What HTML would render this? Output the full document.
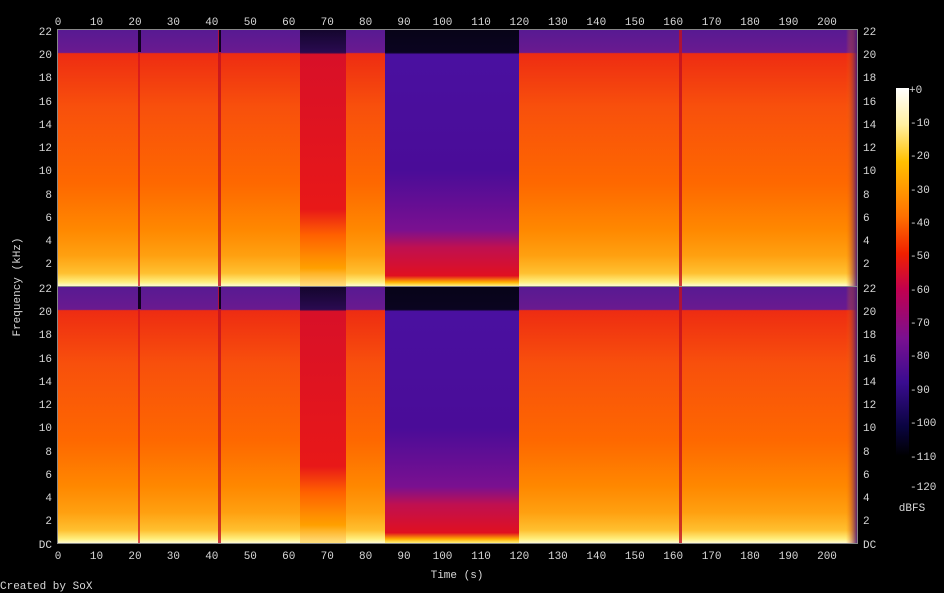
<!DOCTYPE html>
<html><head><style>
html,body{margin:0;padding:0;background:#000;width:944px;height:593px;overflow:hidden}
text{font-family:"Liberation Mono","DejaVu Sans Mono",monospace;font-size:11px;fill:#d8d8d8}
</style></head><body>
<svg width="944" height="593" viewBox="0 0 944 593" xmlns="http://www.w3.org/2000/svg">
<defs>
<linearGradient id="o" x1="0" y1="0" x2="0" y2="1">
<stop offset="0" stop-color="#581a92"/><stop offset="0.088" stop-color="#6a1a90"/>
<stop offset="0.092" stop-color="#ee2c12"/><stop offset="0.3" stop-color="#f8500c"/>
<stop offset="0.6" stop-color="#fe6800"/><stop offset="0.78" stop-color="#ff8800"/>
<stop offset="0.88" stop-color="#ffa010"/><stop offset="0.95" stop-color="#ffc030"/>
<stop offset="0.985" stop-color="#fff080"/><stop offset="1" stop-color="#fffad0"/></linearGradient>
<linearGradient id="r" x1="0" y1="0" x2="0" y2="1">
<stop offset="0" stop-color="#14062e"/><stop offset="0.088" stop-color="#2a0a50"/>
<stop offset="0.095" stop-color="#d81028"/><stop offset="0.7" stop-color="#e81818"/>
<stop offset="0.8" stop-color="#ff6000"/><stop offset="0.93" stop-color="#ffa000"/>
<stop offset="1" stop-color="#ffe080"/></linearGradient>
<linearGradient id="p" x1="0" y1="0" x2="0" y2="1">
<stop offset="0" stop-color="#080418"/><stop offset="0.088" stop-color="#0a0420"/>
<stop offset="0.095" stop-color="#4a10a0"/><stop offset="0.55" stop-color="#4a0c98"/>
<stop offset="0.78" stop-color="#7a1090"/><stop offset="0.85" stop-color="#c01050"/>
<stop offset="0.96" stop-color="#e01020"/><stop offset="0.985" stop-color="#ffb000"/>
<stop offset="1" stop-color="#fff080"/></linearGradient>
<linearGradient id="e" x1="0" y1="0" x2="1" y2="0">
<stop offset="0" stop-color="#ff7000" stop-opacity="0"/><stop offset="1" stop-color="#3a0c80"/></linearGradient>
<linearGradient id="cb" x1="0" y1="0" x2="0" y2="1">
<stop offset="0" stop-color="#ffffff"/><stop offset="0.1" stop-color="#fff0a0"/>
<stop offset="0.2" stop-color="#ffc000"/><stop offset="0.35" stop-color="#ff7000"/>
<stop offset="0.45" stop-color="#f02000"/><stop offset="0.55" stop-color="#c00050"/>
<stop offset="0.68" stop-color="#7a1090"/><stop offset="0.8" stop-color="#3a0c90"/>
<stop offset="0.92" stop-color="#0a0440"/><stop offset="1" stop-color="#000000"/></linearGradient>
<g id="ch">
<rect x="58" y="0" width="800" height="256" fill="url(#o)"/>
<rect x="300" y="0" width="46" height="256" fill="url(#r)"/>
<rect x="385" y="0" width="134" height="256" fill="url(#p)"/>
<rect x="846" y="0" width="12" height="256" fill="url(#e)"/>
<rect x="138" y="0" width="2" height="256" fill="#d01020" opacity="0.7"/>
<rect x="218" y="0" width="3" height="256" fill="#c01020" opacity="0.8"/>
<rect x="679" y="0" width="3" height="256" fill="#c01020" opacity="0.8"/>
<rect x="138" y="0" width="3" height="22" fill="#100020"/>
<rect x="219" y="0" width="2" height="22" fill="#100020"/>
</g>
</defs>
<use href="#ch" x="0" y="30"/>
<use href="#ch" x="0" y="287"/>
<rect x="57.5" y="29.5" width="800" height="257" fill="none" stroke="#888" stroke-width="1"/>
<rect x="57.5" y="286.5" width="800" height="257" fill="none" stroke="#888" stroke-width="1"/>
<g id="xt">
<text x="58" y="25" text-anchor="middle">0</text><text x="96.5" y="25" text-anchor="middle">10</text>
<text x="135" y="25" text-anchor="middle">20</text><text x="173.4" y="25" text-anchor="middle">30</text>
<text x="211.8" y="25" text-anchor="middle">40</text><text x="250.3" y="25" text-anchor="middle">50</text>
<text x="288.7" y="25" text-anchor="middle">60</text><text x="327.2" y="25" text-anchor="middle">70</text>
<text x="365.6" y="25" text-anchor="middle">80</text><text x="404" y="25" text-anchor="middle">90</text>
<text x="442.5" y="25" text-anchor="middle">100</text><text x="481" y="25" text-anchor="middle">110</text>
<text x="519.4" y="25" text-anchor="middle">120</text><text x="557.9" y="25" text-anchor="middle">130</text>
<text x="596.3" y="25" text-anchor="middle">140</text><text x="634.8" y="25" text-anchor="middle">150</text>
<text x="673.2" y="25" text-anchor="middle">160</text><text x="711.6" y="25" text-anchor="middle">170</text>
<text x="750" y="25" text-anchor="middle">180</text><text x="788.5" y="25" text-anchor="middle">190</text>
<text x="827" y="25" text-anchor="middle">200</text>
</g>
<use href="#xt" x="0" y="534"/>
<g id="yl" text-anchor="end">
<text x="52" y="35">22</text><text x="52" y="58">20</text><text x="52" y="81">18</text>
<text x="52" y="105">16</text><text x="52" y="128">14</text><text x="52" y="151">12</text>
<text x="52" y="174">10</text><text x="52" y="198">8</text><text x="52" y="221">6</text>
<text x="52" y="244">4</text><text x="52" y="267">2</text>
</g>
<use href="#yl" x="0" y="257"/>
<text x="52" y="548" text-anchor="end">DC</text>
<g id="yr">
<text x="863" y="35">22</text><text x="863" y="58">20</text><text x="863" y="81">18</text>
<text x="863" y="105">16</text><text x="863" y="128">14</text><text x="863" y="151">12</text>
<text x="863" y="174">10</text><text x="863" y="198">8</text><text x="863" y="221">6</text>
<text x="863" y="244">4</text><text x="863" y="267">2</text>
</g>
<use href="#yr" x="0" y="257"/>
<text x="863" y="548">DC</text>
<text x="457" y="578" text-anchor="middle">Time (s)</text>
<text x="20" y="287" text-anchor="middle" transform="rotate(-90 20 287)">Frequency (kHz)</text>
<text x="0" y="589">Created by SoX</text>
<rect x="896" y="88" width="13" height="368" fill="url(#cb)"/>
<g font-size="11">
<text x="909" y="93">+0</text><text x="910" y="126">-10</text><text x="910" y="159">-20</text>
<text x="910" y="193">-30</text><text x="910" y="226">-40</text><text x="910" y="259">-50</text>
<text x="910" y="293">-60</text><text x="910" y="326">-70</text><text x="910" y="359">-80</text>
<text x="910" y="393">-90</text><text x="910" y="426">-100</text><text x="910" y="460">-110</text>
<text x="910" y="490">-120</text>
</g>
<text x="912" y="511" text-anchor="middle">dBFS</text>
</svg>
</body></html>
